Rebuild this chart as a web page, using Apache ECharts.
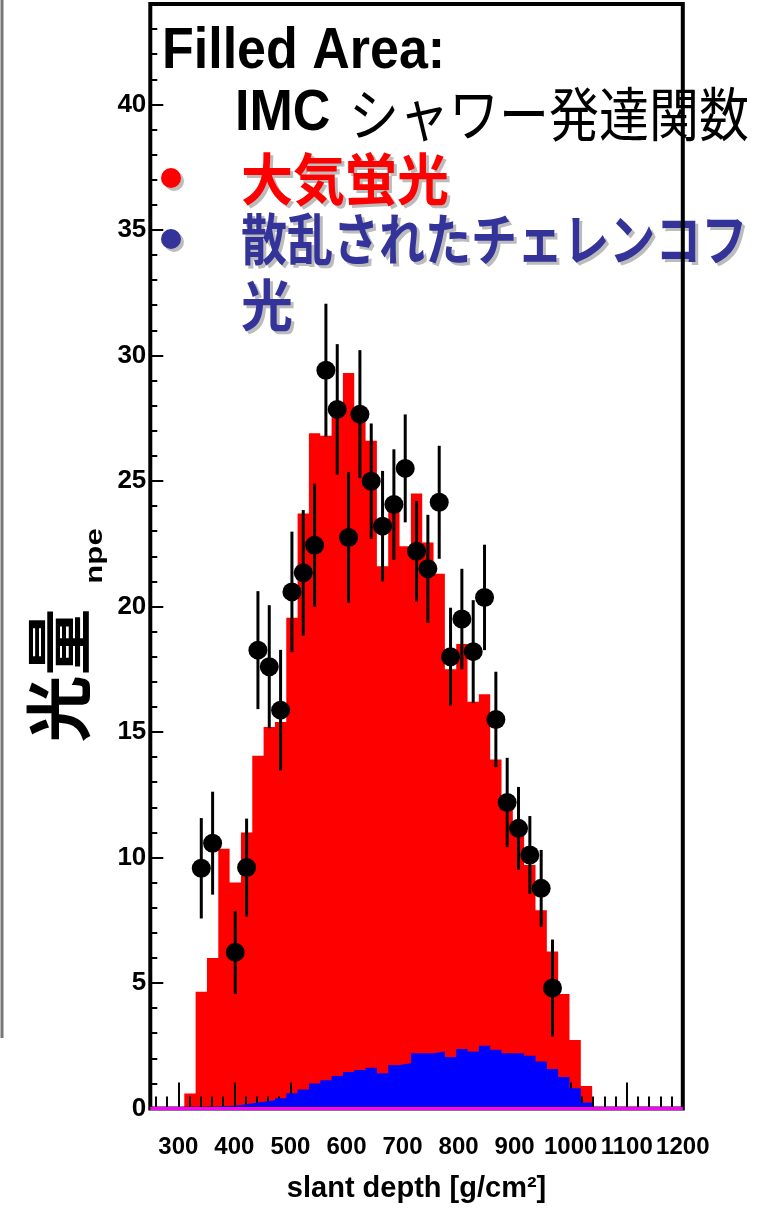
<!DOCTYPE html>
<html><head><meta charset="utf-8">
<script src="https://cdn.jsdelivr.net/npm/echarts@6/dist/echarts.min.js"></script>
<style>html,body{margin:0;padding:0;background:#fff}#c{width:774px;height:1208px}</style>
</head><body><div id="c"></div>
<script>
// ---- data ----
const depthMin = 250, depthMax = 1200, binCount = 47;
// filled histogram: IMC shower development function, atmospheric fluorescence (red)
const imcFluor = [0, 0, 0, 0.6, 4.65, 6.0, 10.35, 9.0, 11.0, 14.05, 15.2, 15.4, 19.55, 23.7, 26.9, 26.8,
  27.6, 29.3, 27.7, 26.6, 21.6, 24.1, 22.4, 24.5, 22.55, 21.3, 17.5, 18.5, 16.2, 16.5, 13.9, 12.4,
  11.1, 9.7, 7.9, 6.25, 4.56, 2.73, 0.9, 0, 0, 0, 0, 0, 0, 0, 0];
// filled histogram: scattered Cherenkov light (blue)
const imcCherenkov = [0, 0, 0, 0, 0, 0, 0.1, 0.14, 0.21, 0.27, 0.33, 0.41, 0.61, 0.76, 1.0, 1.13,
  1.29, 1.45, 1.53, 1.62, 1.4, 1.73, 1.8, 2.2, 2.2, 2.27, 2.05, 2.37, 2.27, 2.5, 2.34, 2.2,
  2.2, 2.1, 1.87, 1.57, 1.25, 0.81, 0.24, 0, 0, 0, 0, 0, 0, 0, 0];
// magenta baseline histogram
const baseHist = [0, 0, 0, 0, 0, 0, 0, 0, 0, 0, 0, 0, 0, 0, 0, 0, 0, 0, 0, 0, 0, 0, 0, 0,
  0, 0, 0, 0, 0, 0, 0, 0, 0, 0, 0, 0, 0, 0, 0, 0, 0, 0, 0, 0, 0, 0, 0];
// measured points (bin index, npe, error)
const pointBins = [4, 5, 7, 8, 9, 10, 11, 12, 13, 14, 15, 16, 17, 18, 19, 20, 21, 22, 23, 24, 25,
  26, 27, 28, 29, 30, 31, 32, 33, 34, 35];
const pointValues = [9.57, 10.57, 6.22, 9.6, 18.26, 17.6, 15.87, 20.58, 21.34, 22.44, 29.41, 27.85,
  22.75, 27.66, 24.99, 23.2, 24.06, 25.5, 22.2, 21.5, 24.15, 18.0, 19.5, 18.2, 20.36, 15.5,
  12.19, 11.16, 10.1, 8.77, 4.8];
const pointErrors = [2.0, 2.05, 1.65, 1.95, 2.35, 2.45, 2.4, 2.4, 2.5, 2.45, 2.65, 2.6, 2.6, 2.55,
  2.3, 2.2, 2.2, 2.15, 2.0, 2.15, 2.25, 1.95, 2.0, 2.05, 2.1, 1.9, 1.78, 1.65, 1.55, 1.53, 1.93];
// axis ticks / labels
const xTickLabels = [300, 400, 500, 600, 700, 800, 900, 1000, 1100, 1200];
const xMinorTicks = [260, 280, 300, 320, 340, 360, 380, 400, 420, 440, 460, 480, 500, 520, 540, 560,
  580, 600, 620, 640, 660, 680, 700, 720, 740, 760, 780, 800, 820, 840, 860, 880, 900, 920, 940,
  960, 980, 1000, 1020, 1040, 1060, 1080, 1100, 1120, 1140, 1160, 1180];
const yTickLabels = [0, 5, 10, 15, 20, 25, 30, 35, 40];
const yMinorTicks = [0, 1, 2, 3, 4, 5, 6, 7, 8, 9, 10, 11, 12, 13, 14, 15, 16, 17, 18, 19, 20, 21,
  22, 23, 24, 25, 26, 27, 28, 29, 30, 31, 32, 33, 34, 35, 36, 37, 38, 39, 40, 41, 42, 43];

// ---- build ----
const binEdges = [];
for (let i = 0; i <= binCount; i++) binEdges.push(depthMin + i * (depthMax - depthMin) / binCount);
function stepData(vals) {
  const d = vals.map((v, i) => [binEdges[i], v]);
  d.push([binEdges[binCount], vals[vals.length - 1]]);
  return d;
}
const pointData = pointBins.map((k, i) => [(binEdges[k] + binEdges[k + 1]) / 2, pointValues[i], pointErrors[i]]);

const LAT = 'Liberation Sans, Arial, sans-serif';
const JP = '"Noto Sans CJK JP", sans-serif';

const chart = echarts.init(document.getElementById('c'), null, {renderer: 'canvas'});
function txt(text, x, y, font, fill, opts) {
  return Object.assign({
    type: 'text', x: x, y: y, z: 5,
    style: {text: text, font: font, fill: fill, textAlign: 'left', textVerticalAlign: 'middle'}
  }, opts || {});
}
const shadow = '#bcbcbc';
const plain = v => String(v);
chart.setOption({
  animation: false,
  backgroundColor: '#fff',
  grid: {left: 150.3, right: 91.2, top: 4, bottom: 99.5, show: true, borderColor: '#000', borderWidth: 4,
    backgroundColor: 'transparent', z: 6, containLabel: false, outerBoundsMode: 'none'},
  xAxis: [{
    type: 'value', min: depthMin, max: depthMax, position: 'bottom', z: 2,
    axisLine: {show: false}, splitLine: {show: false},
    axisTick: {show: true, inside: true, length: 26, customValues: xTickLabels, lineStyle: {color: '#000', width: 2}},
    axisLabel: {customValues: xTickLabels, formatter: plain, hideOverlap: false, color: '#000', fontSize: 24,
      fontWeight: 'bold', fontFamily: LAT, margin: 27, showMinLabel: true, showMaxLabel: true},
    name: 'slant depth [g/cm²]', nameLocation: 'middle', nameGap: 66,
    nameTextStyle: {color: '#000', fontSize: 29, fontWeight: 'bold', fontFamily: LAT}
  }, {
    type: 'value', min: depthMin, max: depthMax, position: 'bottom', z: 2,
    axisLine: {show: false}, splitLine: {show: false},
    axisTick: {show: true, inside: true, length: 12, customValues: xMinorTicks, lineStyle: {color: '#000', width: 2}},
    axisLabel: {show: false}
  }],
  yAxis: [{
    type: 'value', min: 0, max: 44, position: 'left', z: 2,
    axisLine: {show: false}, splitLine: {show: false},
    axisTick: {show: true, inside: true, length: 13, customValues: yTickLabels, lineStyle: {color: '#000', width: 2}},
    axisLabel: {customValues: yTickLabels, formatter: plain, hideOverlap: false, color: '#000', fontSize: 26,
      fontWeight: 'bold', fontFamily: LAT, margin: 4}
  }, {
    type: 'value', min: 0, max: 44, position: 'left', z: 2,
    axisLine: {show: false}, splitLine: {show: false},
    axisTick: {show: true, inside: true, length: 7, customValues: yMinorTicks, lineStyle: {color: '#000', width: 2}},
    axisLabel: {show: false}
  }],
  series: [{
    type: 'line', name: '大気蛍光', data: stepData(imcFluor), step: 'end', symbol: 'none', z: 1,
    lineStyle: {width: 0, color: '#ff0000'}, areaStyle: {color: '#ff0000', opacity: 1}
  }, {
    type: 'line', name: '散乱されたチェレンコフ光', data: stepData(imcCherenkov), step: 'end', symbol: 'none', z: 3,
    lineStyle: {width: 0, color: '#0000ff'}, areaStyle: {color: '#0000ff', opacity: 1}
  }, {
    type: 'custom', z: 4, data: pointData, encode: {x: 0, y: 1},
    renderItem: function (params, api) {
      const x = api.value(0), v = api.value(1), e = api.value(2);
      const a = api.coord([x, v - e]), b = api.coord([x, v + e]);
      return {type: 'line', shape: {x1: a[0], y1: a[1], x2: b[0], y2: b[1]}, style: {stroke: '#000', lineWidth: 3}};
    }
  }, {
    type: 'scatter', z: 4, data: pointData.map(p => [p[0], p[1]]), symbol: 'circle', symbolSize: 19,
    itemStyle: {color: '#000', opacity: 1}
  }, {
    type: 'line', z: 7, data: stepData(baseHist), step: 'end', symbol: 'none', clip: false,
    lineStyle: {width: 3, color: '#ff00ff'}
  }],
  graphic: [
    {type: 'line', shape: {x1: 2, y1: 0, x2: 2, y2: 1038}, style: {stroke: '#777', lineWidth: 3}, z: 5},
    {type: 'text', x: 58.5, y: 675.5, rotation: Math.PI / 2, z: 5,
      style: {text: '光量', font: 'bold 67px ' + JP, fill: '#000', textAlign: 'center', textVerticalAlign: 'middle'}},
    {type: 'text', x: 95, y: 556, rotation: Math.PI / 2, scaleX: 1.3, z: 5,
      style: {text: 'npe', font: 'bold 24px ' + LAT, fill: '#000', textAlign: 'center', textVerticalAlign: 'middle'}},
    txt('Filled Area:', 162, 52.6, 'bold 52px ' + LAT, '#000', {scaleY: 1.1}),
    txt('IMC', 235, 114, 'bold 52px ' + LAT, '#000', {scaleY: 1.1}),
    txt('シャワー発達関数', 349, 114, '50px ' + JP, '#000', {scaleY: 1.15}),
    {type: 'circle', shape: {cx: 174, cy: 181, r: 10}, style: {fill: shadow}, z: 5},
    {type: 'circle', shape: {cx: 171, cy: 178, r: 10}, style: {fill: '#ff0000'}, z: 5},
    {type: 'circle', shape: {cx: 174, cy: 242, r: 10}, style: {fill: shadow}, z: 5},
    {type: 'circle', shape: {cx: 171, cy: 239, r: 10}, style: {fill: '#333399'}, z: 5},
    txt('大気蛍光', 244, 182, 'bold 52px ' + JP, shadow, {scaleY: 1.07}),
    txt('大気蛍光', 241, 179, 'bold 52px ' + JP, '#ff0000', {scaleY: 1.07}),
    txt('散乱されたチェレンコフ', 244, 242, 'bold 52px ' + JP, shadow, {scaleY: 1.07, scaleX: 0.885}),
    txt('散乱されたチェレンコフ', 241, 239, 'bold 52px ' + JP, '#333399', {scaleY: 1.07, scaleX: 0.885}),
    txt('光', 244, 308, 'bold 52px ' + JP, shadow, {scaleY: 1.07}),
    txt('光', 241, 305, 'bold 52px ' + JP, '#333399', {scaleY: 1.07})
  ]
});
</script>
</body></html>
